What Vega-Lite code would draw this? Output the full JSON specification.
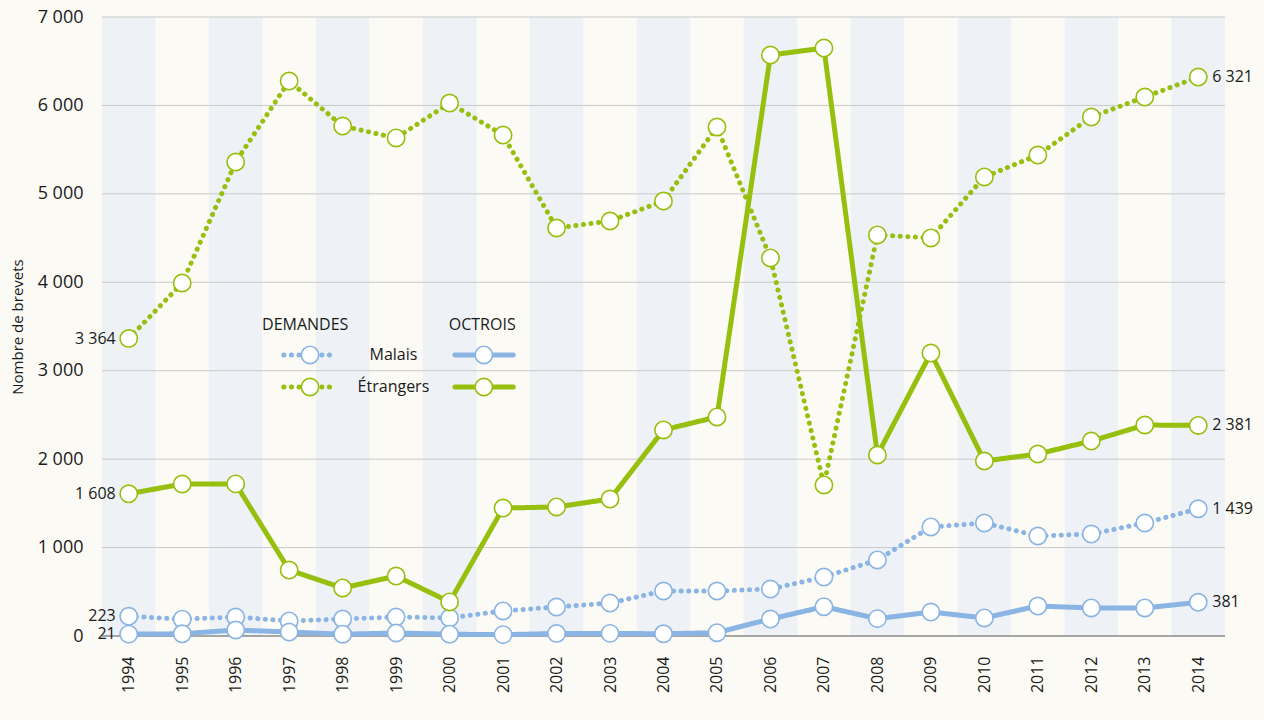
{
  "$schema": "https://vega.github.io/schema/vega-lite/v6.json",
  "width": 1123,
  "height": 619,
  "autosize": {"type": "none"},
  "padding": {"left": 102, "top": 17, "right": 39, "bottom": 84},
  "background": "#fbfaf5",
  "config": {
    "view": {"stroke": null, "fill": "#fbfaf5"},
    "font": "Open Sans",
    "locale": {"number": {"decimal": ",", "thousands": " ", "grouping": [3], "currency": ["", ""]}}
  },
  "datasets": {
    "series": [
      {"year": 1994, "md": 223, "mo": 21, "ed": 3364, "eo": 1608},
      {"year": 1995, "md": 190, "mo": 25, "ed": 3992, "eo": 1719},
      {"year": 1996, "md": 215, "mo": 68, "ed": 5360, "eo": 1720},
      {"year": 1997, "md": 170, "mo": 45, "ed": 6276, "eo": 746},
      {"year": 1998, "md": 192, "mo": 20, "ed": 5767, "eo": 543},
      {"year": 1999, "md": 215, "mo": 34, "ed": 5632, "eo": 678},
      {"year": 2000, "md": 204, "mo": 20, "ed": 6027, "eo": 385},
      {"year": 2001, "md": 283, "mo": 15, "ed": 5665, "eo": 1447},
      {"year": 2002, "md": 328, "mo": 28, "ed": 4614, "eo": 1459},
      {"year": 2003, "md": 373, "mo": 30, "ed": 4693, "eo": 1549},
      {"year": 2004, "md": 509, "mo": 25, "ed": 4919, "eo": 2330},
      {"year": 2005, "md": 509, "mo": 37, "ed": 5756, "eo": 2477},
      {"year": 2006, "md": 531, "mo": 192, "ed": 4275, "eo": 6570},
      {"year": 2007, "md": 667, "mo": 331, "ed": 1708, "eo": 6649},
      {"year": 2008, "md": 860, "mo": 196, "ed": 4535, "eo": 2047},
      {"year": 2009, "md": 1233, "mo": 271, "ed": 4501, "eo": 3200},
      {"year": 2010, "md": 1278, "mo": 204, "ed": 5191, "eo": 1979},
      {"year": 2011, "md": 1131, "mo": 339, "ed": 5439, "eo": 2058},
      {"year": 2012, "md": 1153, "mo": 317, "ed": 5869, "eo": 2205},
      {"year": 2013, "md": 1278, "mo": 317, "ed": 6095, "eo": 2386},
      {"year": 2014, "md": 1439, "mo": 381, "ed": 6321, "eo": 2381}
    ],
    "bands": [
      {"year": 1994}, {"year": 1996}, {"year": 1998}, {"year": 2000}, {"year": 2002}, {"year": 2004},
      {"year": 2006}, {"year": 2008}, {"year": 2010}, {"year": 2012}, {"year": 2014}
    ],
    "grid": [{"v": 1000}, {"v": 2000}, {"v": 3000}, {"v": 4000}, {"v": 5000}, {"v": 6000}, {"v": 7000}],
    "legendLines": [
      {"key": "md", "x1": 1996.9, "x2": 1997.89, "xc": 1997.39, "y": 3178},
      {"key": "ed", "x1": 1996.9, "x2": 1997.89, "xc": 1997.39, "y": 2816},
      {"key": "mo", "x1": 2000.1, "x2": 2001.19, "xc": 2000.64, "y": 3178},
      {"key": "eo", "x1": 2000.1, "x2": 2001.19, "xc": 2000.64, "y": 2816}
    ],
    "legendText": [
      {"t": "DEMANDES", "x": 1997.3, "y": 3517},
      {"t": "OCTROIS", "x": 2000.61, "y": 3517},
      {"t": "Malais", "x": 1998.95, "y": 3178},
      {"t": "Étrangers", "x": 1998.95, "y": 2816}
    ]
  },
  "layer": [
    {
      "data": {"name": "bands"},
      "transform": [
        {"calculate": "datum.year - 0.5", "as": "x0"},
        {"calculate": "datum.year + 0.5", "as": "x1"}
      ],
      "mark": {"type": "rect", "color": "#eef2f6"},
      "encoding": {
        "x": {
          "field": "x0", "type": "quantitative",
          "scale": {"domain": [1993.5, 2014.5], "nice": false, "zero": false},
          "axis": {
            "values": [1994, 1995, 1996, 1997, 1998, 1999, 2000, 2001, 2002, 2003, 2004, 2005, 2006, 2007, 2008, 2009, 2010, 2011, 2012, 2013, 2014],
            "format": "d", "labelAngle": -90, "ticks": false, "domain": false, "grid": false,
            "labelFontSize": 16, "labelPadding": 20, "labelColor": "#1a1a1a", "title": null
          }
        },
        "x2": {"field": "x1"},
        "y": {
          "datum": 0, "type": "quantitative",
          "scale": {"domain": [0, 7000], "nice": false},
          "axis": {
            "values": [0, 1000, 2000, 3000, 4000, 5000, 6000, 7000],
            "format": ",d", "ticks": false, "domain": false, "grid": false,
            "labelFontSize": 18, "labelPadding": 19, "labelColor": "#1a1a1a",
            "title": "Nombre de brevets", "titleFontSize": 15, "titleFontWeight": "normal",
            "titleColor": "#1a1a1a", "titlePadding": 12
          }
        },
        "y2": {"datum": 7000}
      }
    },
    {
      "data": {"name": "grid"},
      "mark": {"type": "rule", "color": "#c9c9c9", "strokeWidth": 1},
      "encoding": {"y": {"field": "v", "type": "quantitative"}}
    },
    {
      "data": {"values": [{"z": 0}]},
      "mark": {"type": "rule", "color": "#555555", "strokeWidth": 1},
      "encoding": {"y": {"field": "z", "type": "quantitative"}}
    },
    {
      "data": {"name": "series"},
      "transform": [{"fold": ["md", "ed", "mo", "eo"], "as": ["key", "value"]}],
      "layer": [
        {
          "mark": {"type": "line", "strokeWidth": 5, "strokeCap": "round", "strokeJoin": "round"},
          "encoding": {
            "x": {"field": "year", "type": "quantitative"},
            "y": {"field": "value", "type": "quantitative"},
            "color": {"field": "key", "type": "nominal", "legend": null,
              "scale": {"domain": ["md", "mo", "ed", "eo"], "range": ["#8ab4e3", "#8ab4e3", "#97bf0d", "#97bf0d"]}},
            "strokeDash": {"field": "key", "type": "nominal", "legend": null,
              "scale": {"domain": ["md", "mo", "ed", "eo"], "range": [[0.1, 7.5], [1, 0], [0.1, 7.5], [1, 0]]}}
          }
        },
        {
          "mark": {"type": "point", "filled": false, "fill": "white", "fillOpacity": 1, "opacity": 1, "size": 300, "strokeWidth": 1.6},
          "encoding": {
            "x": {"field": "year", "type": "quantitative"},
            "y": {"field": "value", "type": "quantitative"},
            "stroke": {"field": "key", "type": "nominal", "legend": null,
              "scale": {"domain": ["md", "mo", "ed", "eo"], "range": ["#8ab4e3", "#8ab4e3", "#97bf0d", "#97bf0d"]}}
          }
        },
        {
          "transform": [{"filter": "datum.year == 1994"}],
          "mark": {"type": "text", "align": "right", "baseline": "middle", "dx": -13, "fontSize": 16, "color": "#1a1a1a"},
          "encoding": {
            "x": {"field": "year", "type": "quantitative"},
            "y": {"field": "value", "type": "quantitative"},
            "text": {"field": "value", "type": "quantitative", "format": ",d"}
          }
        },
        {
          "transform": [{"filter": "datum.year == 2014"}],
          "mark": {"type": "text", "align": "left", "baseline": "middle", "dx": 14, "fontSize": 16, "color": "#1a1a1a"},
          "encoding": {
            "x": {"field": "year", "type": "quantitative"},
            "y": {"field": "value", "type": "quantitative"},
            "text": {"field": "value", "type": "quantitative", "format": ",d"}
          }
        }
      ]
    },
    {
      "data": {"name": "legendLines"},
      "layer": [
        {
          "mark": {"type": "rule", "strokeWidth": 5, "strokeCap": "round"},
          "encoding": {
            "x": {"field": "x1", "type": "quantitative"},
            "x2": {"field": "x2"},
            "y": {"field": "y", "type": "quantitative"},
            "color": {"field": "key", "type": "nominal", "legend": null},
            "strokeDash": {"field": "key", "type": "nominal", "legend": null}
          }
        },
        {
          "mark": {"type": "point", "filled": false, "fill": "white", "fillOpacity": 1, "opacity": 1, "size": 300, "strokeWidth": 1.6},
          "encoding": {
            "x": {"field": "xc", "type": "quantitative"},
            "y": {"field": "y", "type": "quantitative"},
            "stroke": {"field": "key", "type": "nominal", "legend": null}
          }
        }
      ]
    },
    {
      "data": {"name": "legendText"},
      "mark": {"type": "text", "align": "center", "baseline": "middle", "fontSize": 16, "color": "#1a1a1a"},
      "encoding": {
        "x": {"field": "x", "type": "quantitative"},
        "y": {"field": "y", "type": "quantitative"},
        "text": {"field": "t", "type": "nominal"}
      }
    }
  ]
}
